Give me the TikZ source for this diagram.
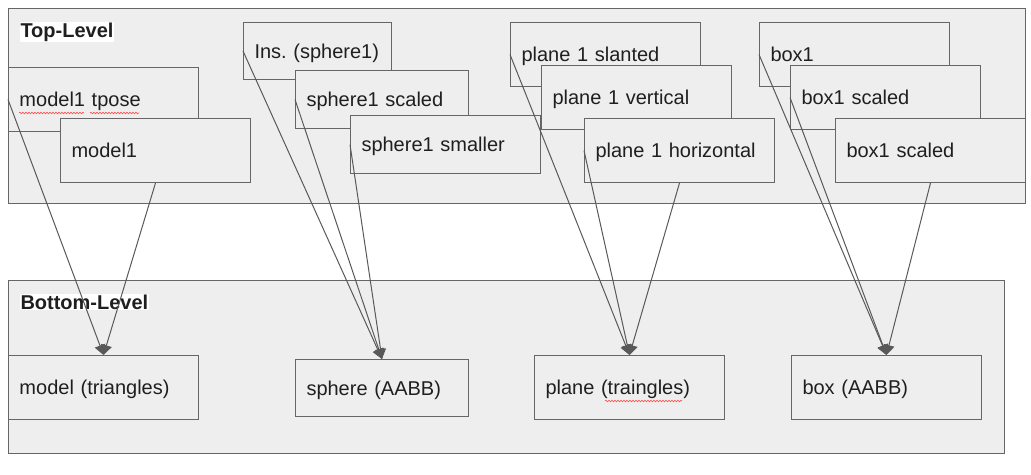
\documentclass[tikz,border=0pt]{standalone}
\usepackage{fontspec}
\setmainfont{Liberation Sans}
\usetikzlibrary{arrows.meta, positioning, decorations.pathmorphing}

\definecolor{panelfill}{HTML}{EEEEEE}
\definecolor{edgegray}{HTML}{666666}
\definecolor{linkgray}{HTML}{595959}
\definecolor{textdark}{HTML}{1F1F1F}

\begin{document}
\begin{tikzpicture}[
        x = 1pt, y = -1pt,
        > = {Triangle[width=11pt,length=10pt]},
        line width = 1pt,
        panel/.style = {draw = edgegray, fill = panelfill},
        title/.style = {
            anchor = west,
            fill = white,
            inner sep = 1pt,
            text = textdark,
            font = \bfseries\fontsize{20}{24}\selectfont
        },
        obj/.style 2 args = {
            draw = edgegray,
            fill = panelfill,
            rectangle,
            anchor = north west,
            inner xsep = 11pt,
            inner ysep = 0pt,
            text width = #1,
            text height = 18pt,
            text depth = 4pt,
            minimum height = #2,
            align = left,
            text = textdark,
            font = \fontsize{20}{24}\selectfont
        },
        wide/.style = {obj = {168pt}{64pt}},
        link/.style = {->, draw = linkgray},
        squiggle/.style = {
            draw = red!70,
            line width = 0.6pt,
            decorate,
            decoration = {snake, amplitude = 0.8pt, segment length = 3pt}
        }
    ]

        \useasboundingbox (0,0) rectangle (1031,474);

        % top level
        \draw[panel] (8,8) rectangle (1025,203);
        \node[title] (toplabel) at (19,32) {Top-Level};

        \node[wide] (tpose) at (8,67) {model1 tpose};
        \node[wide] (model1) at (60,118) {model1};

        \node[obj = {136pt}{57pt}, inner xsep = 6pt] (ins) at (243,22) {\hspace*{5pt}Ins.\ (sphere1)};
        \node[obj = {151pt}{58pt}] (sphscaled) at (295,70) {sphere1 scaled};
        \node[obj = {168pt}{58pt}] (sphsmall) at (350,115) {sphere1 smaller};

        \node[wide] (slanted) at (510,22) {plane 1 slanted};
        \node[wide] (vertical) at (541,65) {plane 1 vertical};
        \node[wide] (horizontal) at (584,118) {plane 1 horizontal};

        \node[wide] (box1) at (759,22) {box1};
        \node[wide] (boxscaled) at (790,65) {box1 scaled};
        \node[wide] (boxscaledb) at (835,118) {box1 scaled};

        % bottom level
        \draw[panel] (8,280) rectangle (1004,453);
        \node[title] (bottomlabel) at (19,302) {Bottom-Level};

        \node[wide] (modeltri) at (8,355) {model (triangles)};
        \node[obj = {151pt}{57pt}] (sphaabb) at (295,359) {sphere (AABB)};
        \node[wide] (planetri) at (534,355) {plane (traingles)};
        \node[wide] (boxaabb) at (791,355) {box (AABB)};

        % spelling marks
        \draw[squiggle] (19,113) -- (84,113);
        \draw[squiggle] (90,113) -- (139,113);
        \draw[squiggle] (605,401) -- (682,401);

        % instances
        \draw[link] (tpose.west) -- (modeltri.north);
        \draw[link] (model1.south) -- (modeltri.north);

        \draw[link] (ins.west) -- (sphaabb.north);
        \draw[link] (sphscaled.west) -- (sphaabb.north);
        \draw[link] (sphsmall.west) -- (sphaabb.north);

        \draw[link] (slanted.west) -- (planetri.north);
        \draw[link] (horizontal.west) -- (planetri.north);
        \draw[link] (horizontal.south) -- (planetri.north);

        \draw[link] (box1.west) -- (boxaabb.north);
        \draw[link] (boxscaled.west) -- (boxaabb.north);
        \draw[link] (boxscaledb.south) -- (boxaabb.north);

    \end{tikzpicture}
\end{document}
